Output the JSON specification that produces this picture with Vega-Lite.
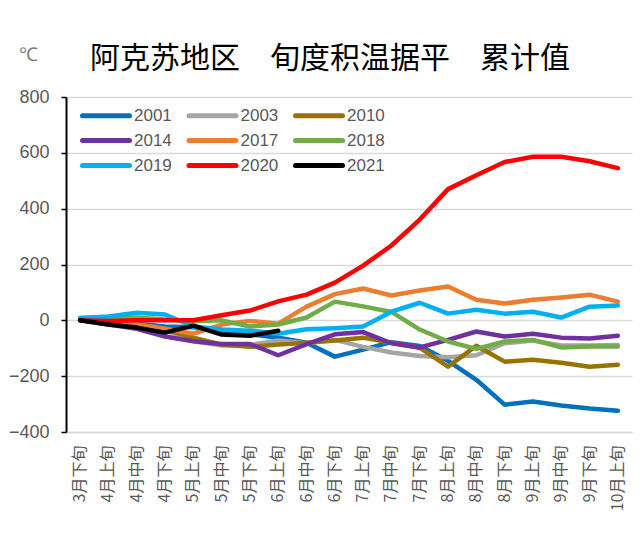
{
  "$schema": "https://vega.github.io/schema/vega-lite/v6.json",
  "width": 566,
  "height": 335,
  "autosize": "none",
  "padding": {"left": 66, "top": 97, "right": 10, "bottom": 105},
  "background": "white",
  "title": {
    "text": "阿克苏地区　旬度积温据平　累计值",
    "anchor": "start",
    "frame": "group",
    "dx": 24,
    "offset": 0,
    "dy": 29,
    "font": "Noto Sans CJK SC",
    "fontSize": 30,
    "fontWeight": "normal",
    "color": "#000000"
  },
  "data": {
    "values": [
      {"period": "3月下旬", "2001": 0, "2003": 0, "2010": 0, "2014": 0, "2017": 0, "2018": 8, "2019": 8, "2020": 0, "2021": 0},
      {"period": "4月上旬", "2001": -5, "2003": -8, "2010": -10, "2014": -15, "2017": -5, "2018": 10, "2019": 14, "2020": -2, "2021": -15},
      {"period": "4月中旬", "2001": -12, "2003": -18, "2010": -20, "2014": -30, "2017": -15, "2018": 10, "2019": 27, "2020": 0, "2021": -26},
      {"period": "4月下旬", "2001": -22, "2003": -35, "2010": -33, "2014": -58, "2017": -30, "2018": 3, "2019": 21, "2020": 0, "2021": -44},
      {"period": "5月上旬", "2001": -25, "2003": -75, "2010": -62, "2014": -75, "2017": -48, "2018": -3, "2019": -22, "2020": 0, "2021": -19},
      {"period": "5月中旬", "2001": -35, "2003": -90, "2010": -87, "2014": -85, "2017": -15, "2018": 0, "2019": -33, "2020": 18, "2021": -51},
      {"period": "5月下旬", "2001": -50, "2003": -88, "2010": -95, "2014": -85, "2017": -2, "2018": -22, "2019": -37, "2020": 35, "2021": -55},
      {"period": "6月上旬", "2001": -62, "2003": -72, "2010": -87, "2014": -125, "2017": -12, "2018": -15, "2019": -48, "2020": 68, "2021": -37},
      {"period": "6月中旬", "2001": -80, "2003": -82, "2010": -80, "2014": -85, "2017": 49, "2018": 10, "2019": -32, "2020": 92, "2021": null},
      {"period": "6月下旬", "2001": -130, "2003": -70, "2010": -72, "2014": -50, "2017": 94, "2018": 67, "2019": -28, "2020": 135, "2021": null},
      {"period": "7月上旬", "2001": -105, "2003": -95, "2010": -62, "2014": -42, "2017": 114, "2018": 50, "2019": -22, "2020": 196, "2021": null},
      {"period": "7月中旬", "2001": -78, "2003": -115, "2010": -80, "2014": -82, "2017": 89, "2018": 30, "2019": 31, "2020": 268, "2021": null},
      {"period": "7月下旬", "2001": -92, "2003": -128, "2010": -98, "2014": -97, "2017": 107, "2018": -33, "2019": 63, "2020": 361, "2021": null},
      {"period": "8月上旬", "2001": -145, "2003": -132, "2010": -166, "2014": -70, "2017": 121, "2018": -76, "2019": 24, "2020": 470, "2021": null},
      {"period": "8月中旬", "2001": -213, "2003": -125, "2010": -91, "2014": -40, "2017": 74, "2018": -102, "2019": 38, "2020": 520, "2021": null},
      {"period": "8月下旬", "2001": -302, "2003": -82, "2010": -148, "2014": -58, "2017": 60, "2018": -76, "2019": 24, "2020": 567, "2021": null},
      {"period": "9月上旬", "2001": -291, "2003": -72, "2010": -141, "2014": -48, "2017": 74, "2018": -70, "2019": 31, "2020": 586, "2021": null},
      {"period": "9月中旬", "2001": -305, "2003": -90, "2010": -152, "2014": -62, "2017": 82, "2018": -97, "2019": 10, "2020": 586, "2021": null},
      {"period": "9月下旬", "2001": -316, "2003": -90, "2010": -166, "2014": -65, "2017": 92, "2018": -94, "2019": 49, "2020": 570, "2021": null},
      {"period": "10月上旬", "2001": -324, "2003": -88, "2010": -159, "2014": -55, "2017": 67, "2018": -94, "2019": 53, "2020": 545, "2021": null}
    ]
  },
  "transform": [
    {"fold": ["2001", "2003", "2010", "2014", "2017", "2018", "2019", "2020", "2021"], "as": ["year", "value"]}
  ],
  "mark": {"type": "line", "strokeWidth": 4.5, "strokeJoin": "round", "strokeCap": "round"},
  "encoding": {
    "x": {
      "field": "period",
      "type": "ordinal",
      "sort": null,
      "scale": {"type": "band", "paddingInner": 0, "paddingOuter": 0},
      "axis": {
        "title": null,
        "labelAngle": -90,
        "labelFont": "Noto Sans CJK SC",
        "labelFontSize": 16,
        "labelColor": "#595959",
        "labelPadding": 13,
        "ticks": false,
        "domainColor": "#D9D9D9",
        "domainWidth": 1.5,
        "grid": false
      }
    },
    "y": {
      "field": "value",
      "type": "quantitative",
      "scale": {"domain": [-400, 800], "nice": false},
      "axis": {
        "values": [-400, -200, 0, 200, 400, 600, 800],
        "title": "℃",
        "titleAngle": 0,
        "titleX": -48,
        "titleY": -43,
        "titleAlign": "left",
        "titleBaseline": "middle",
        "titleFont": "Liberation Sans",
        "titleFontSize": 19,
        "titleFontWeight": "normal",
        "titleColor": "#7F7F7F",
        "labelFont": "Liberation Sans",
        "labelFontSize": 18,
        "labelColor": "#595959",
        "labelPadding": 12,
        "tickSize": 5,
        "tickColor": "#000000",
        "tickWidth": 1.5,
        "domainColor": "#000000",
        "domainWidth": 2,
        "grid": true,
        "gridColor": "#D9D9D9",
        "gridWidth": 1.5
      }
    },
    "color": {
      "field": "year",
      "type": "nominal",
      "scale": {
        "domain": ["2001", "2003", "2010", "2014", "2017", "2018", "2019", "2020", "2021"],
        "range": ["#0070C0", "#A5A5A5", "#997300", "#7030A0", "#ED7D31", "#70AD47", "#00B0F0", "#FF0000", "#000000"]
      },
      "legend": {
        "title": null,
        "orient": "none",
        "direction": "horizontal",
        "legendX": 27.5,
        "legendY": 6,
        "columns": 3,
        "symbolType": "M-2.35,0H2.35",
        "symbolSize": 400,
        "symbolStrokeWidth": 5,
        "labelFont": "Liberation Sans",
        "labelFontSize": 17,
        "labelColor": "#595959",
        "labelOffset": 15.5,
        "columnPadding": 6.5,
        "rowPadding": 2,
        "encode": {"symbols": {"update": {"strokeCap": {"value": "round"}, "fillOpacity": {"value": 0}}}}
      }
    }
  },
  "config": {
    "view": {"stroke": null}
  }
}
